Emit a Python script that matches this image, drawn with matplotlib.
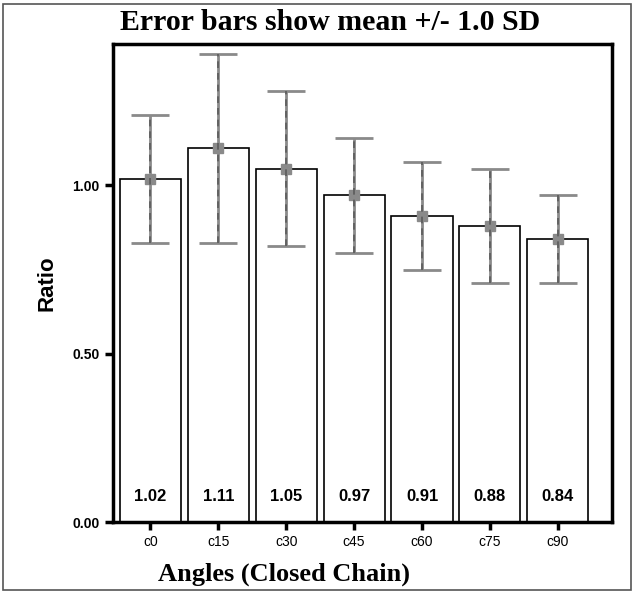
import matplotlib
matplotlib.use("Agg")
import matplotlib.pyplot as plt
from matplotlib.patches import Rectangle

categories = ['c0', 'c15', 'c30', 'c45', 'c60', 'c75', 'c90']
means = [1.02, 1.11, 1.05, 0.97, 0.91, 0.88, 0.84]
sds = [0.19, 0.28, 0.23, 0.17, 0.16, 0.17, 0.13]
yticks = [0.00, 0.50, 1.00]

fig = plt.figure(figsize=(6.35, 5.94), dpi=100)
ax = fig.add_axes([0.178, 0.121, 0.786, 0.805])

x = list(range(len(categories)))
ax.bar(x, means, width=0.9, color='white', edgecolor='black', linewidth=1.2, zorder=2)
ax.errorbar(x, means, yerr=sds, fmt='s', color='#8a8a8a', ecolor='#8a8a8a',
            markersize=7, elinewidth=2, capsize=14, capthick=2, ls='none', zorder=3)
# dashed look on the error bar stems
for xi, m, s in zip(x, means, sds):
    ax.plot([xi, xi], [m - s, m + s], color='#5a5a5a', lw=1.2,
            dashes=(4, 3), zorder=4)

for xi, m in zip(x, means):
    ax.text(xi, 0.075, '%.2f' % m, ha='center', va='center',
            fontsize=12, fontweight='bold', family='Liberation Sans', zorder=5)

ax.set_xlim(-0.55, 6.8)
ax.set_ylim(0, 1.42)
ax.set_xticks(x)
ax.set_xticklabels(categories, fontsize=10, family='Liberation Sans')
ax.set_yticks(yticks)
ax.set_yticklabels(['%.2f' % t for t in yticks], fontsize=10, fontweight='bold',
                   family='Liberation Sans')
ax.tick_params(axis='both', width=2.5, length=6, color='black')

for sp in ax.spines.values():
    sp.set_linewidth(2.5)

ax.set_ylabel('Ratio', fontsize=16, fontweight='bold', family='Liberation Sans')
ax.yaxis.set_label_coords(-0.112, 0.5)
ax.set_xlabel('Angles (Closed Chain)', fontsize=19, fontweight='bold',
              family='Liberation Serif')
ax.xaxis.set_label_coords(0.343, -0.085)
fig.text(0.52, 0.962, 'Error bars show mean +/- 1.0 SD', ha='center', va='center',
         fontsize=21.5, fontweight='bold', family='Liberation Serif')

fig.patches.append(Rectangle((0.004, 0.006), 0.99, 0.988, transform=fig.transFigure,
                             fill=False, edgecolor='#555555', linewidth=1.2))

fig.savefig('out.png', dpi=100)
